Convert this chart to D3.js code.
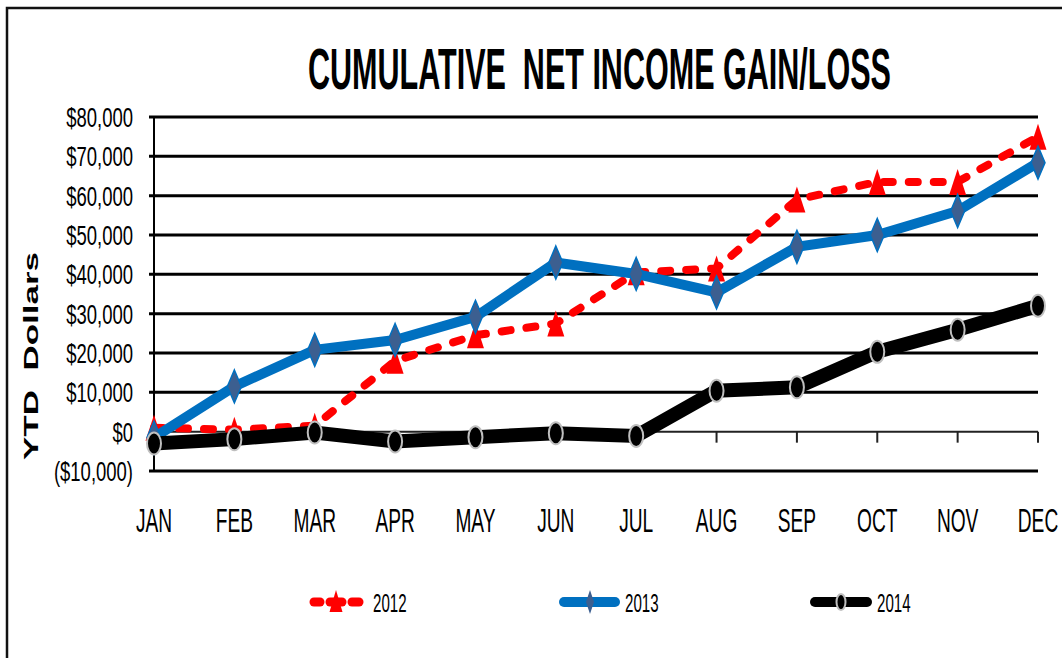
<!DOCTYPE html>
<html>
<head>
<meta charset="utf-8">
<script src="https://cdn.jsdelivr.net/npm/d3@7"></script>
<style>
  body { margin: 0; background: #fff; }
  text { font-family: "Liberation Sans", Arial, sans-serif; white-space: pre; }
</style>
</head>
<body>
<script>
// chart data
var months = ["JAN", "FEB", "MAR", "APR", "MAY", "JUN", "JUL", "AUG", "SEP", "OCT", "NOV", "DEC"];
var yTicks = [-10000, 0, 10000, 20000, 30000, 40000, 50000, 60000, 70000, 80000];
var series2012 = [1000, 500, 1500, 18000, 24500, 27500, 40500, 41500, 59000, 63500, 63500, 75000];
var series2013 = [-1500, 11500, 20800, 23300, 29200, 43000, 40100, 35400, 47000, 50000, 56100, 68400];
var series2014 = [-3000, -1900, -200, -2500, -1400, -400, -1100, 10400, 11300, 20300, 25900, 32000];
var seriesNames = ["2012", "2013", "2014"];

var W = 1062, H = 658;
var SX = 0.58; // the picture is squeezed sideways, text too

var svg = d3.select("body").append("svg")
    .attr("width", W)
    .attr("height", H);

// frame
svg.append("rect")
    .attr("x", 7).attr("y", 8)
    .attr("width", 1200).attr("height", 800)
    .attr("fill", "none")
    .attr("stroke", "#111")
    .attr("stroke-width", 2.5);

var x = d3.scalePoint().domain(months).range([154, 1038]);
var y = d3.scaleLinear().domain([-10000, 80000]).range([471, 117]);

function squeezed(sel, tx, ty, s) {
    return sel.attr("transform", "translate(" + tx + "," + ty + ") scale(" + (s || SX) + ",1)");
}

// title, squeezed to the width it has in the picture
var title = svg.append("text")
    .attr("font-size", 57)
    .attr("font-weight", "bold")
    .text("CUMULATIVE\u00a0\u00a0NET INCOME GAIN/LOSS");
var tw = title.node().getComputedTextLength();
squeezed(title, 308, 89, 583 / tw);

// y title
svg.append("text")
    .attr("transform", "translate(38,356) scale(" + SX + ",1) rotate(-90)")
    .attr("text-anchor", "middle")
    .attr("font-size", 35)
    .attr("font-weight", "bold")
    .text("YTD\u00a0\u00a0Dollars");

// gridlines
var grid = svg.append("g");
grid.selectAll("line").data(yTicks.filter(d => d !== 0))
    .enter().append("line")
    .attr("x1", 149).attr("x2", x("DEC"))
    .attr("y1", d => y(d)).attr("y2", d => y(d))
    .attr("stroke", "#000")
    .attr("stroke-width", 3);

// y axis line and ticks
svg.append("line")
    .attr("x1", 154).attr("x2", 154)
    .attr("y1", y(80000)).attr("y2", y(-10000))
    .attr("stroke", "#000").attr("stroke-width", 2);
svg.append("line")
    .attr("x1", 149).attr("x2", 154)
    .attr("y1", y(0)).attr("y2", y(0))
    .attr("stroke", "#000").attr("stroke-width", 2);

// zero axis with month ticks
svg.append("line")
    .attr("x1", 154).attr("x2", x("DEC"))
    .attr("y1", y(0)).attr("y2", y(0))
    .attr("stroke", "#222").attr("stroke-width", 2);
svg.append("g").selectAll("line").data(months)
    .enter().append("line")
    .attr("x1", d => x(d)).attr("x2", d => x(d))
    .attr("y1", y(0)).attr("y2", y(0) + 11)
    .attr("stroke", "#222").attr("stroke-width", 2);

// y labels
var fmt = d3.format(",");
svg.append("g").selectAll("text").data(yTicks)
    .enter().append("text")
    .each(function (d) { squeezed(d3.select(this), 133, y(d) + 10, 0.66); })
    .attr("text-anchor", "end")
    .attr("font-size", 28)
    .text(d => d < 0 ? "($" + fmt(-d) + ")" : "$" + fmt(d));

// month labels
svg.append("g").selectAll("text").data(months)
    .enter().append("text")
    .each(function (d) { squeezed(d3.select(this), x(d), 532); })
    .attr("text-anchor", "middle")
    .attr("font-size", 33)
    .text(d => d);

var line = d3.line().x((d, i) => x(months[i])).y(d => y(d));

function triangle(cx, cy, w, h) {
    return d3.line()([[cx, cy - h / 2], [cx + w / 2, cy + h / 2], [cx - w / 2, cy + h / 2]]) + "Z";
}
function diamond(cx, cy, w, h) {
    return d3.line()([[cx, cy - h / 2], [cx + w / 2, cy], [cx, cy + h / 2], [cx - w / 2, cy]]) + "Z";
}

// 2012
svg.append("path")
    .attr("d", line(series2012))
    .attr("fill", "none")
    .attr("stroke", "#ff0000")
    .attr("stroke-width", 8)
    .attr("stroke-dasharray", "9,16")
    .attr("stroke-linecap", "round");
svg.append("g").selectAll("path").data(series2012)
    .enter().append("path")
    .attr("d", (d, i) => triangle(x(months[i]), y(d), 17, 26))
    .attr("fill", "#ff0000");

// 2013
svg.append("path")
    .attr("d", line(series2013))
    .attr("fill", "none")
    .attr("stroke", "#0070c0")
    .attr("stroke-width", 10);
svg.append("g").selectAll("path").data(series2013)
    .enter().append("path")
    .attr("d", (d, i) => diamond(x(months[i]), y(d), 14, 33))
    .attr("fill", "#3c5f90")
    .attr("stroke", "#0070c0")
    .attr("stroke-width", 1.5);

// 2014
svg.append("path")
    .attr("d", line(series2014))
    .attr("fill", "none")
    .attr("stroke", "#000")
    .attr("stroke-width", 14);
svg.append("g").selectAll("ellipse").data(series2014)
    .enter().append("ellipse")
    .attr("cx", (d, i) => x(months[i]))
    .attr("cy", d => y(d))
    .attr("rx", 7)
    .attr("ry", 11)
    .attr("fill", "#000")
    .attr("stroke", "#bfbfbf")
    .attr("stroke-width", 2);

// legend
var leg = svg.append("g");
var ly = 602;
[[314, 320], [330, 342], [352, 359]].forEach(function (seg) {
    leg.append("line")
        .attr("x1", seg[0]).attr("x2", seg[1]).attr("y1", ly).attr("y2", ly)
        .attr("stroke", "#ff0000").attr("stroke-width", 9)
        .attr("stroke-linecap", "round");
});
leg.append("path").attr("d", triangle(336, ly - 1, 13, 22)).attr("fill", "#ff0000");

leg.append("line")
    .attr("x1", 564).attr("x2", 615).attr("y1", ly).attr("y2", ly)
    .attr("stroke", "#0070c0").attr("stroke-width", 10).attr("stroke-linecap", "round");
leg.append("path").attr("d", diamond(590, ly, 8, 24)).attr("fill", "#3c5f90");

leg.append("line")
    .attr("x1", 815).attr("x2", 867).attr("y1", ly).attr("y2", ly)
    .attr("stroke", "#000").attr("stroke-width", 10).attr("stroke-linecap", "round");
leg.append("ellipse").attr("cx", 841).attr("cy", ly).attr("rx", 4.5).attr("ry", 8)
    .attr("fill", "#000").attr("stroke", "#bfbfbf").attr("stroke-width", 2);

var legX = [373, 625, 877];
leg.selectAll("text").data(seriesNames)
    .enter().append("text")
    .each(function (d, i) { squeezed(d3.select(this), legX[i], 612); })
    .attr("font-size", 26)
    .text(d => d);
</script>
</body>
</html>
